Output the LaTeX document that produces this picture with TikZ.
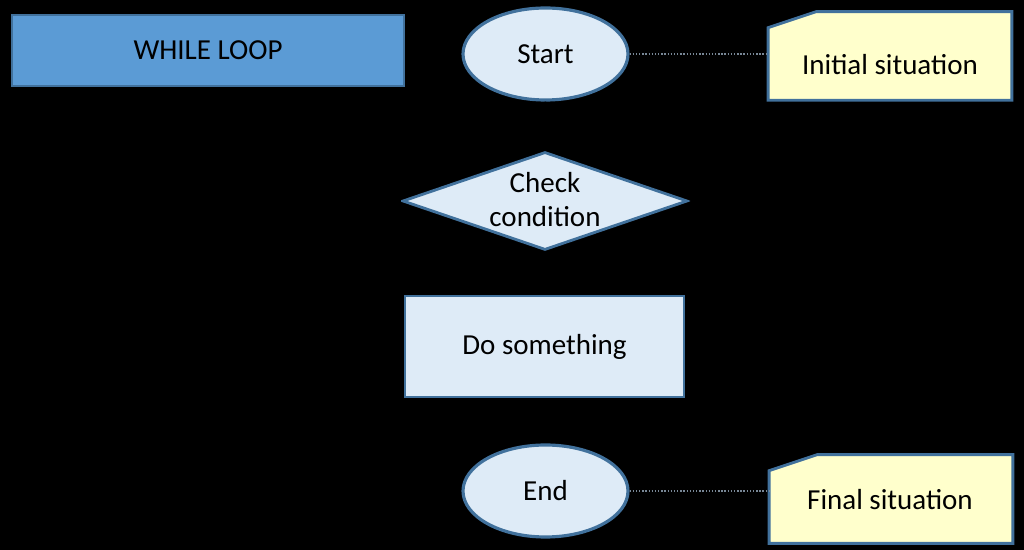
\documentclass[tikz,border=0pt]{standalone}
\usepackage{fontspec}
\setmainfont{Carlito}
\usetikzlibrary{shapes.geometric,arrows.meta,positioning,calc}
\definecolor{EdgeBlue}{RGB}{65,113,156}
\definecolor{TitleBlue}{RGB}{91,155,213}
\definecolor{PaleBlue}{RGB}{222,235,247}
\definecolor{NoteYellow}{RGB}{255,255,204}
\definecolor{DotGray}{RGB}{120,135,150}
\newcommand{\flatlines}[1]{\makebox[0pt]{\raisebox{-0.18cm}[0pt][0pt]{\begin{tabular}{@{}c@{}}#1\end{tabular}}}}
\tikzset{
  titlebox/.style={draw=EdgeBlue,fill=TitleBlue,line width=1.6pt,
               minimum width=7.84cm,minimum height=1.42cm,
               font=\fontsize{16.5}{19.5}\selectfont,text centered},
  termbox/.style={draw=EdgeBlue,fill=PaleBlue,ellipse,line width=1.8pt,
               minimum width=3.3cm,minimum height=1.84cm,inner sep=0pt,
               font=\fontsize{16.5}{19.5}\selectfont},
  condbox/.style={draw=EdgeBlue,fill=PaleBlue,diamond,line width=1.6pt,
               minimum width=5.7cm,minimum height=1.96cm,inner sep=0pt,
               font=\fontsize{16.5}{19.5}\selectfont},
  workbox/.style={draw=EdgeBlue,fill=PaleBlue,line width=1.6pt,
               minimum width=5.58cm,minimum height=2.02cm,
               font=\fontsize{16.5}{19.5}\selectfont},
  notebox/.style={minimum width=4.86cm,minimum height=1.76cm,inner sep=0pt},
  noteedge/.style={draw=EdgeBlue,fill=NoteYellow,line width=1.6pt},
  notetext/.style={font=\fontsize{16.5}{19.5}\selectfont},
  dotlink/.style={DotGray,densely dotted,line width=0.8pt},
  arr/.style={-{Stealth[length=6pt,width=5pt]},black,thick},
}
\begin{document}
\begin{tikzpicture}
  \fill[black] (0,0) rectangle (20.48,11);
  \useasboundingbox (0,0) rectangle (20.48,11);
  % flow nodes
  \node[titlebox] (title) at (4.16,9.99) {WHILE LOOP};
  \node[termbox] (start) at (10.91,9.92) {Start};
  \node[condbox] (check) at (10.9,6.98) {\flatlines{Check\\condition}};
  \node[workbox] (work) at (10.89,4.07) {Do something};
  \node[termbox] (stop) at (10.91,1.18) {End};
  % notes
  \node[notebox] (initnote) at (17.8,9.88) {};
  \node[notebox] (finalnote) at (17.82,1.02) {};
  \foreach \n in {initnote,finalnote}
    \draw[noteedge] ([yshift=-0.32cm]\n.north west) -- ([xshift=0.96cm]\n.north west)
      -- (\n.north east) -- (\n.south east) -- (\n.south west) -- cycle;
  \node[notetext] (inittext) at (17.8,9.7) {Initial situation};
  \node[notetext] (finaltext) at (17.8,1.0) {Final situation};
  % connectors
  \draw[arr] (start) -- (check);
  \draw[arr] (check) -- (work);
  \draw[arr] (work.east) -- ++(0.7,0) |- (check.east);
  \draw[arr] (check.west) -- ++(-0.5,0) |- (stop.west);
  \draw[dotlink] (start.east) -- (start.east -| initnote.west);
  \draw[dotlink] (stop.east) -- (stop.east -| finalnote.west);
\end{tikzpicture}
\end{document}
